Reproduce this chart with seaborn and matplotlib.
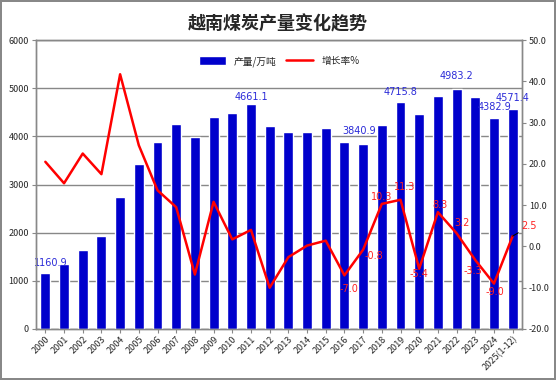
import numpy as np
import pandas as pd
import matplotlib
matplotlib.use("Agg")
import matplotlib.pyplot as plt
import seaborn as sns

sns.set_style("white")
plt.rcParams["font.family"] = ["Noto Sans CJK SC", "DejaVu Sans"]

years = ["2000", "2001", "2002", "2003", "2004", "2005", "2006", "2007", "2008",
         "2009", "2010", "2011", "2012", "2013", "2014", "2015", "2016", "2017",
         "2018", "2019", "2020", "2021", "2022", "2023", "2024", "2025(1-12)"]
output = [1160.9, 1345, 1650, 1940, 2750, 3420, 3890, 4260, 3980,
          4410, 4485, 4661.1, 4205, 4100, 4100, 4163, 3872, 3840.9,
          4237, 4715.8, 4461, 4829, 4983.2, 4819, 4382.9, 4571.4]
growth = [20.5, 15.3, 22.5, 17.5, 41.7, 24.5, 13.6, 9.5, -6.8,
          10.8, 1.7, 4.0, -10.0, -2.6, 0.2, 1.4, -7.0, -0.8,
          10.3, 11.3, -5.4, 8.3, 3.2, -3.3, -9.0, 2.5]

# label offsets in points (dx, dy) for the labelled points
bar_offsets = {"2000": (4, 7), "2011": (0, 5.5), "2017": (-3, 9.5), "2019": (0, 7),
               "2022": (0, 9), "2024": (0.7, 7.5), "2025(1-12)": (0, 8)}
line_offsets = {"2016": (3, -10), "2017": (8, -4.5), "2018": (0, 5), "2019": (3, 9),
                "2020": (0, -4), "2021": (1.5, 5), "2022": (4, 7), "2023": (-2, -8),
                "2024": (1, -6), "2025(1-12)": (12, 7)}

df = pd.DataFrame({"year": years, "output": output, "growth": growth})
df["pos"] = np.arange(len(df))

fig = plt.figure(figsize=(5.56, 3.80), dpi=100, linewidth=1.5, edgecolor="#888888")
ax = fig.add_axes([36 / 556, 1 - 329 / 380, (522 - 36) / 556, (329 - 40) / 380])

sns.barplot(data=df, x="year", y="output", color="#0000CC", saturation=1,
            width=0.53, ax=ax, label="产量/万吨", zorder=3)
ax.set_ylim(0, 6000)
ax.set_yticks(range(0, 6001, 1000))
ax.set_xlim(-0.5, len(df) - 0.5)
ax.set_axisbelow(True)
ax.yaxis.grid(True, color="#888888", linewidth=1)
ax.set_xlabel("")
ax.set_ylabel("")
ax.tick_params(axis="y", labelsize=6.5, length=3, width=0.8, color="#888888", pad=2, left=True)
ax.tick_params(axis="x", labelsize=6.5, length=3, width=0.8, color="#888888", bottom=True, pad=1)
for lbl in ax.get_xticklabels():
    lbl.set_rotation(45)
    lbl.set_ha("right")
    lbl.set_rotation_mode("anchor")
for s in ax.spines.values():
    s.set_color("#888888")
    s.set_linewidth(1)

for _, r in df.iterrows():
    if r["year"] in bar_offsets:
        ax.annotate(f"{r['output']:.1f}", (r["pos"], r["output"]), xytext=bar_offsets[r["year"]],
                    textcoords="offset points", ha="center", va="center",
                    fontsize=7, color="#2B2BD8", family="DejaVu Sans", zorder=5)

h1, l1 = ax.get_legend_handles_labels()
if ax.get_legend():
    ax.get_legend().remove()

ax2 = ax.twinx()
sns.lineplot(data=df, x="pos", y="growth", color="#FF0000", linewidth=1.8, ax=ax2, label="增长率%")
ax2.set_ylim(-20, 50)
ax2.set_yticks(range(-20, 51, 10))
ax2.set_yticklabels([f"{v:.1f}" for v in range(-20, 51, 10)])
ax2.set_ylabel("")
ax2.tick_params(axis="y", labelsize=6.5, length=3, width=0.8, color="#888888", pad=2, right=True)
for s in ax2.spines.values():
    s.set_color("#888888")
    s.set_linewidth(1)

for _, r in df.iterrows():
    if r["year"] in line_offsets:
        kw = {}
        if r["year"] == "2025(1-12)":
            kw["arrowprops"] = dict(arrowstyle="-", color="black", lw=0.8, shrinkA=0, shrinkB=0)
        ax2.annotate(f"{r['growth']:.1f}", (r["pos"], r["growth"]), xytext=line_offsets[r["year"]],
                     textcoords="offset points", ha="center", va="center",
                     fontsize=7, color="#FF2222", family="DejaVu Sans", **kw)

h2, l2 = ax2.get_legend_handles_labels()
if ax2.get_legend():
    ax2.get_legend().remove()
ax2.legend(h1 + h2, l1 + l2, loc="upper center", bbox_to_anchor=(0.5, 0.975), ncol=2,
           frameon=False, fontsize=7, handlelength=2.8, handleheight=1.0, columnspacing=1.0)

fig.text(0.5, 1 - 24 / 380, "越南煤炭产量变化趋势", ha="center", va="center",
         fontsize=13, fontweight="bold")

plt.savefig("out.png", dpi=100)
